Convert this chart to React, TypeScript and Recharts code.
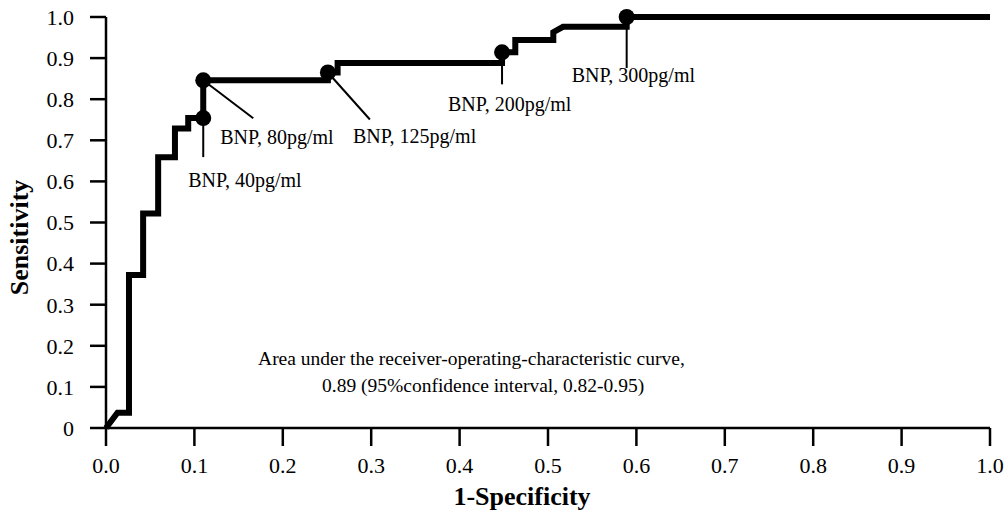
import React from 'react';
import { LineChart, Line, XAxis, YAxis, ReferenceDot } from 'recharts';

// ROC curve points (1-specificity, sensitivity)
const fpr = [0, 0.013, 0.026, 0.026, 0.042, 0.042, 0.059, 0.059, 0.078, 0.078, 0.093, 0.093, 0.11, 0.11, 0.251, 0.251, 0.262, 0.262, 0.448, 0.448, 0.463, 0.463, 0.506, 0.506, 0.517, 0.589, 0.589, 1.0];
const tpr = [0, 0.037, 0.037, 0.372, 0.372, 0.522, 0.522, 0.659, 0.659, 0.729, 0.729, 0.754, 0.754, 0.846, 0.846, 0.865, 0.865, 0.888, 0.888, 0.914, 0.914, 0.944, 0.944, 0.963, 0.976, 0.976, 1.0, 1.0];

// BNP cut-off points
const cutoffLabels = ['BNP, 40pg/ml', 'BNP, 80pg/ml', 'BNP, 125pg/ml', 'BNP, 200pg/ml', 'BNP, 300pg/ml'];
const cutoffFpr = [0.11, 0.11, 0.251, 0.448, 0.589];
const cutoffTpr = [0.754, 0.846, 0.865, 0.914, 1.0];

const xTicks = [0, 0.1, 0.2, 0.3, 0.4, 0.5, 0.6, 0.7, 0.8, 0.9, 1.0];
const yTicks = [0, 0.1, 0.2, 0.3, 0.4, 0.5, 0.6, 0.7, 0.8, 0.9, 1.0];
const xTickLabels = ['0.0', '0.1', '0.2', '0.3', '0.4', '0.5', '0.6', '0.7', '0.8', '0.9', '1.0'];
const yTickLabels = ['0', '0.1', '0.2', '0.3', '0.4', '0.5', '0.6', '0.7', '0.8', '0.9', '1.0'];

const aucLines = ['Area under the receiver-operating-characteristic curve,', '0.89 (95%confidence interval, 0.82-0.95)'];
const aucAnchor = { x: 0.172, y: 0.153 };

// layout (pixel offsets of leader line ends and labels relative to each dot)
const leaderLayout = [
  { lx: 0, ly: 39, tx: -15, ty: 69 },
  { lx: 50, ly: 38, tx: 17, ty: 64 },
  { lx: 42, ly: 47, tx: 25, ty: 71 },
  { lx: 0, ly: 32, tx: -54, ty: 59 },
  { lx: 0, ly: 51, tx: -55, ty: 65 },
];

const FONT = '"Liberation Serif", "Times New Roman", serif';
const rows = fpr.map((x, i) => ({ x, y: tpr[i] }));

const idxOf = (list: number[], v: number) => list.findIndex((t) => Math.abs(t - v) < 1e-9);

export default function App() {
  return (
    <div style={{ position: 'absolute', left: 0, top: 0, background: '#fff' }}>
      <LineChart width={1005} height={511} data={rows} margin={{ top: 17, right: 15, bottom: 43, left: 46 }}>
        <XAxis
          type="number"
          dataKey="x"
          domain={[0, 1]}
          ticks={xTicks}
          tickFormatter={(v: number) => xTickLabels[idxOf(xTicks, v)]}
          height={40}
          tickSize={18}
          tickMargin={11}
          axisLine={{ stroke: '#000', strokeWidth: 2.5 }}
          tickLine={{ stroke: '#000', strokeWidth: 2.5 }}
          tick={{ fill: '#000', fontSize: 22, fontFamily: FONT }}
          label={{
            content: (p: any) => {
              const vb = p.viewBox || {};
              return (
                <text x={vb.x + vb.width / 2 - 26} y={505} textAnchor="middle" fontFamily={FONT} fontWeight="bold" fontSize={26} fill="#000">
                  1-Specificity
                </text>
              );
            },
          }}
        />
        <YAxis
          type="number"
          dataKey="y"
          domain={[0, 1]}
          ticks={yTicks}
          tickFormatter={(v: number) => yTickLabels[idxOf(yTicks, v)]}
          width={60}
          tickSize={16}
          tickMargin={16}
          axisLine={{ stroke: '#000', strokeWidth: 2.5 }}
          tickLine={{ stroke: '#000', strokeWidth: 2.5 }}
          tick={{ fill: '#000', fontSize: 22, fontFamily: FONT }}
          label={{
            content: (p: any) => {
              const vb = p.viewBox || {};
              const cy = vb.y + vb.height / 2 + 15;
              return (
                <text x={28} y={cy} transform={`rotate(-90, 28, ${cy})`} textAnchor="middle" fontFamily={FONT} fontWeight="bold" fontSize={26} fill="#000">
                  Sensitivity
                </text>
              );
            },
          }}
        />
        <Line dataKey="y" type="linear" stroke="#000" strokeWidth={6} dot={false} activeDot={false} isAnimationActive={false} strokeLinejoin="miter" />
        {cutoffLabels.map((lab, i) => (
          <ReferenceDot
            key={lab}
            x={cutoffFpr[i]}
            y={cutoffTpr[i]}
            r={8}
            ifOverflow="visible"
            shape={(p: any) => {
              const L = leaderLayout[i];
              return (
                <g>
                  <line x1={p.cx} y1={p.cy} x2={p.cx + L.lx} y2={p.cy + L.ly} stroke="#000" strokeWidth={2} />
                  <circle cx={p.cx} cy={p.cy} r={8} fill="#000" />
                  <text x={p.cx + L.tx} y={p.cy + L.ty} fontFamily={FONT} fontSize={20} fill="#000">
                    {lab}
                  </text>
                </g>
              );
            }}
          />
        ))}
        <ReferenceDot
          x={aucAnchor.x}
          y={aucAnchor.y}
          r={0}
          ifOverflow="visible"
          shape={(p: any) => (
            <g>
              <text x={p.cx} y={p.cy} fontFamily={FONT} fontSize={19.5} fill="#000">{aucLines[0]}</text>
              <text x={p.cx + 64} y={p.cy + 27} fontFamily={FONT} fontSize={19.5} fill="#000">{aucLines[1]}</text>
            </g>
          )}
        />
      </LineChart>
    </div>
  );
}
